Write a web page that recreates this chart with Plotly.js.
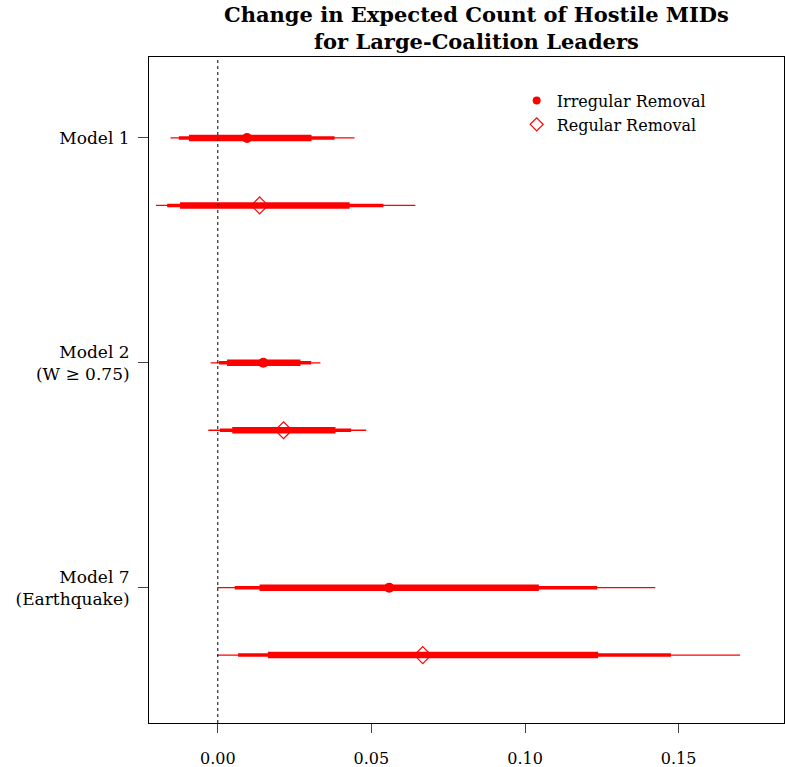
<!DOCTYPE html>
<html>
<head>
<meta charset="utf-8">
<script src="https://cdn.plot.ly/plotly-3.0.1.min.js"></script>
<style>html,body{margin:0;padding:0;background:#fff;}#chart{width:785px;height:767px;}</style>
</head>
<body>
<div id="chart"></div>
<script>
// Model labels and their vertical positions
const modelLabels = ["Model 1", "Model 2<br>(W ≥ 0.75)", "Model 7<br>(Earthquake)"];
const modelPos = [3, 2, 1];
const xTickVals = [0, 0.05, 0.10, 0.15];
const xTickText = ["0.00", "0.05", "0.10", "0.15"];
const titleText = "<b>Change in Expected Count of Hostile MIDs<br>for Large-Coalition Leaders</b>";
const legendNames = ["Irregular Removal", "Regular Removal"];

// Irregular removal (filled circle), rows at modelPos
const irrY = [3, 2, 1];
const irrEst = [0.0095, 0.0148, 0.0558];
const irrThinLo = [-0.0154, -0.0023, -0.0002];
const irrThinHi = [0.0445, 0.0334, 0.1424];
const irrMedLo = [-0.0127, 0.0004, 0.0055];
const irrMedHi = [0.0380, 0.0304, 0.1235];
const irrThickLo = [-0.0094, 0.0030, 0.0136];
const irrThickHi = [0.0305, 0.0269, 0.1045];

// Regular removal (open diamond), rows just below each model
const regY = [2.7, 1.7, 0.7];
const regEst = [0.0136, 0.0214, 0.0667];
const regThinLo = [-0.0201, -0.0031, -0.0002];
const regThinHi = [0.0643, 0.0483, 0.1700];
const regMedLo = [-0.0165, 0.0007, 0.0066];
const regMedHi = [0.0539, 0.0434, 0.1475];
const regThickLo = [-0.0123, 0.0047, 0.0163];
const regThickHi = [0.0429, 0.0383, 0.1238];

const RED = "#ff0000";
const FONT = "DejaVu Serif, serif";
const traces = [];
function addSegments(ys, lo, hi, width) {
  for (let i = 0; i < ys.length; i++) {
    traces.push({
      type: "scatter", mode: "lines",
      x: [lo[i], hi[i]], y: [ys[i], ys[i]],
      line: {color: RED, width: width},
      showlegend: false, hoverinfo: "skip"
    });
  }
}
addSegments(irrY, irrThinLo, irrThinHi, 1.3);
addSegments(irrY, irrMedLo, irrMedHi, 3.5);
addSegments(irrY, irrThickLo, irrThickHi, 6.5);
addSegments(regY, regThinLo, regThinHi, 1.3);
addSegments(regY, regMedLo, regMedHi, 3.5);
addSegments(regY, regThickLo, regThickHi, 6.5);

traces.push({
  type: "scatter", mode: "markers", name: legendNames[0],
  x: irrEst, y: irrY,
  marker: {symbol: "circle", color: RED, size: 10},
  showlegend: false
});
traces.push({
  type: "scatter", mode: "markers", name: legendNames[1],
  x: regEst, y: regY,
  marker: {symbol: "diamond-open", color: RED, size: 13, line: {color: RED, width: 1.2}},
  showlegend: false
});
// legend entries (smaller symbols, as in the reference key)
traces.push({
  type: "scatter", mode: "markers", name: legendNames[0],
  x: [null], y: [null],
  marker: {symbol: "circle", color: RED, size: 8},
  showlegend: true
});
traces.push({
  type: "scatter", mode: "markers", name: legendNames[1],
  x: [null], y: [null],
  marker: {symbol: "diamond-open", color: RED, size: 10, line: {color: RED, width: 1.2}},
  showlegend: true
});

const layout = {
  width: 785, height: 767,
  margin: {l: 149, r: 1, t: 57, b: 44},
  paper_bgcolor: "#fff", plot_bgcolor: "#fff",
  font: {family: FONT, color: "#000", size: 16},
  annotations: [{
    text: titleText, xref: "paper", yref: "paper",
    x: 0.515, y: 1, xanchor: "center", yanchor: "bottom", yshift: 1,
    showarrow: false, align: "center",
    font: {family: FONT, size: 21, color: "#000"}
  }],
  xaxis: {
    range: [-0.0224, 0.1843],
    tickvals: xTickVals, ticktext: xTickText,
    showgrid: false, zeroline: false,
    showline: true, mirror: true, linecolor: "#000", linewidth: 1,
    ticks: "outside", ticklen: 9, tickcolor: "#444", tickwidth: 1,
    ticklabelstandoff: 12,
    tickfont: {family: FONT, size: 16, color: "#000"}
  },
  yaxis: {
    range: [0.398, 3.36],
    tickvals: modelPos, ticktext: modelLabels,
    showgrid: false, zeroline: false,
    showline: true, mirror: true, linecolor: "#000", linewidth: 1,
    ticks: "outside", ticklen: 10, tickcolor: "#444", tickwidth: 1,
    ticklabelstandoff: 5,
    tickfont: {family: FONT, size: 17, color: "#000"}
  },
  shapes: [{
    type: "line", xref: "x", yref: "paper",
    x0: 0, x1: 0, y0: 0, y1: 1,
    line: {color: "#000", width: 1, dash: "dot"}
  }],
  legend: {
    x: 0.579, y: 0.96, xanchor: "left", yanchor: "top",
    bgcolor: "rgba(0,0,0,0)", borderwidth: 0,
    font: {family: FONT, size: 16, color: "#000"},
    tracegroupgap: 0, itemwidth: 30
  },
  showlegend: true
};

Plotly.newPlot("chart", traces, layout, {displayModeBar: false, staticPlot: true});
</script>
</body>
</html>
